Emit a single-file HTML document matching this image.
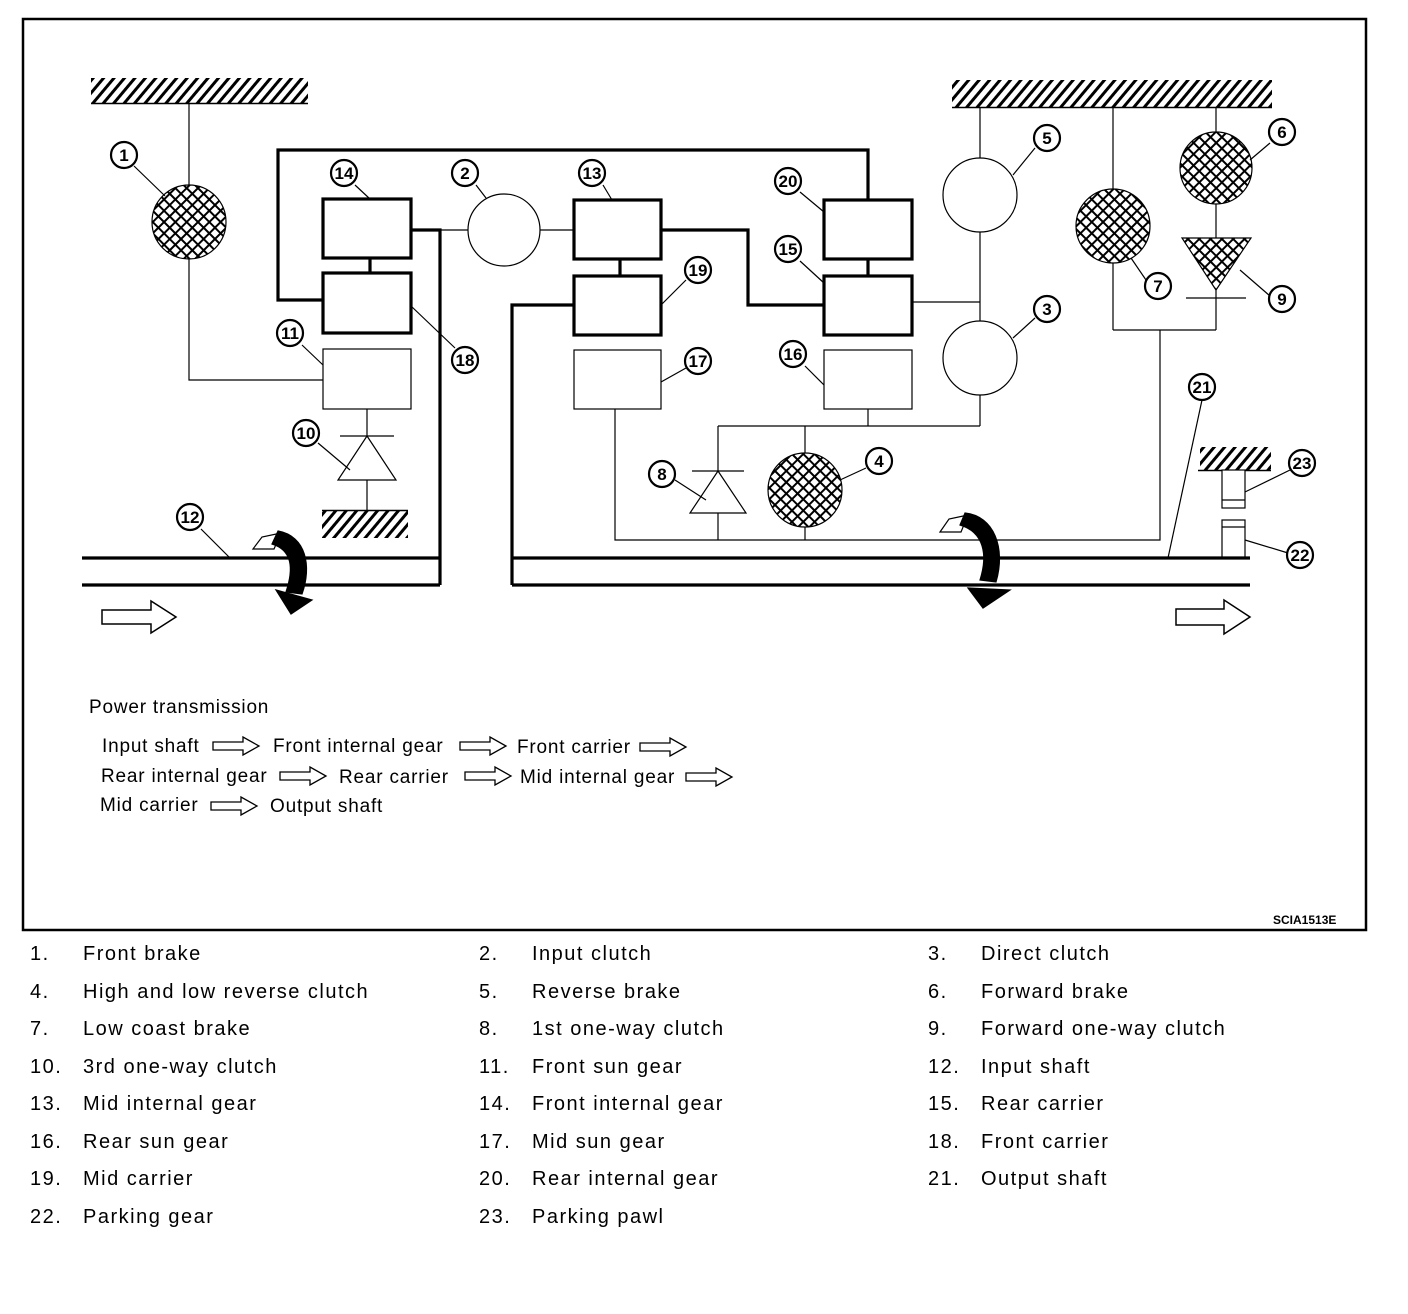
<!DOCTYPE html>
<html><head><meta charset="utf-8"><style>
html,body{margin:0;padding:0;background:#fff}
svg{display:block}
text{font-family:"Liberation Sans",Arial,sans-serif;fill:#000}
.n{font-weight:bold;font-size:17px;text-anchor:middle}
.pt{font-size:19px;letter-spacing:0.8px}
.lg{font-size:20px;letter-spacing:1.5px}
</style></head><body>
<svg width="1408" height="1314" viewBox="0 0 1408 1314" xmlns="http://www.w3.org/2000/svg">
<defs>
<pattern id="h" width="8" height="8" patternUnits="userSpaceOnUse" patternTransform="rotate(40)">
<rect width="8" height="8" fill="#fff"/><rect width="3" height="8" fill="#000"/></pattern>
<pattern id="x" width="8" height="8" patternUnits="userSpaceOnUse" patternTransform="rotate(45)">
<rect width="8" height="8" fill="#fff"/><rect width="2" height="8" fill="#000"/><rect width="8" height="2" fill="#000"/></pattern>
</defs>
<rect x="23" y="19" width="1343" height="911" fill="none" stroke="#000" stroke-width="2.5"/>

<rect x="91" y="78" width="217" height="25" fill="url(#h)"/><line x1="91" y1="103.5" x2="308" y2="103.5" stroke="#000" stroke-width="1.5"/>
<rect x="952" y="80" width="320" height="27" fill="url(#h)"/><line x1="952" y1="107.5" x2="1272" y2="107.5" stroke="#000" stroke-width="1.5"/>
<rect x="322" y="511" width="86" height="27" fill="url(#h)"/><line x1="322" y1="510.5" x2="408" y2="510.5" stroke="#000" stroke-width="1.5"/>
<rect x="1200" y="447" width="71" height="23" fill="url(#h)"/><line x1="1198" y1="470.5" x2="1271" y2="470.5" stroke="#000" stroke-width="1.5"/>

<g stroke="#000" fill="none" stroke-width="1.2">
<polyline points="189,103 189,380 323,380"/>
<line x1="440" y1="230" x2="468" y2="230"/><line x1="540" y1="230" x2="574" y2="230"/>
<polyline points="615,409 615,540 1160,540 1160,330"/>
<line x1="868" y1="409" x2="868" y2="426"/>
<line x1="718" y1="426" x2="980" y2="426"/>
<line x1="980" y1="107" x2="980" y2="426"/>
<line x1="912" y1="302" x2="980" y2="302"/>
<line x1="718" y1="426" x2="718" y2="540"/>
<line x1="805" y1="426" x2="805" y2="540"/>
<line x1="1113" y1="107" x2="1113" y2="330"/><line x1="1216" y1="107" x2="1216" y2="330"/>
<line x1="1113" y1="330" x2="1216" y2="330"/>
<line x1="367" y1="409" x2="367" y2="510"/>
<line x1="1202" y1="400" x2="1168" y2="558"/>
<rect x="323" y="349" width="88" height="60"/>
<rect x="574" y="350" width="87" height="59"/>
<rect x="824" y="350" width="88" height="59"/>
<rect x="1222" y="470" width="23" height="38" fill="#fff"/><line x1="1222" y1="500" x2="1245" y2="500"/>
<rect x="1222" y="520" width="23" height="38" fill="#fff"/><line x1="1222" y1="527" x2="1245" y2="527"/>
<polygon points="338,480 396,480 367,436" fill="#fff"/><line x1="340" y1="436" x2="394" y2="436"/>
<polygon points="690,513 746,513 718,471" fill="#fff"/><line x1="692" y1="471" x2="744" y2="471"/>
<polygon points="1182,238 1251,238 1216,290" fill="url(#x)"/><line x1="1186" y1="298" x2="1246" y2="298"/>
<circle cx="189" cy="222" r="37" fill="url(#x)"/>
<circle cx="504" cy="230" r="36" fill="#fff"/>
<circle cx="980" cy="195" r="37" fill="#fff"/>
<circle cx="980" cy="358" r="37" fill="#fff"/>
<circle cx="805" cy="490" r="37" fill="url(#x)"/>
<circle cx="1113" cy="226" r="37" fill="url(#x)"/>
<circle cx="1216" cy="168" r="36" fill="url(#x)"/>
</g>

<g stroke="#000" fill="none" stroke-width="3.2">
<polyline points="323,300 278,300 278,150 868,150 868,200"/>
<rect x="323" y="199" width="88" height="59"/>
<rect x="323" y="273" width="88" height="60"/>
<line x1="370" y1="258" x2="370" y2="273"/>
<polyline points="411,230 440,230 440,585"/>
<line x1="82" y1="558" x2="440" y2="558"/><line x1="82" y1="585" x2="440" y2="585"/>
<polyline points="574,305 512,305 512,585"/>
<line x1="512" y1="558" x2="1250" y2="558"/><line x1="512" y1="585" x2="1250" y2="585"/>
<rect x="574" y="200" width="87" height="59"/>
<rect x="574" y="276" width="87" height="59"/>
<line x1="620" y1="259" x2="620" y2="276"/>
<polyline points="661,230 748,230 748,305 824,305"/>
<rect x="824" y="200" width="88" height="59"/>
<rect x="824" y="276" width="88" height="59"/>
<line x1="868" y1="259" x2="868" y2="276"/>
</g>

<g stroke="#000" stroke-width="1.2">
<polygon points="253,549 262,537 281,533 274,549" fill="#fff"/>
<path d="M278,531 C306,536 312,566 302,594 L286,592 C294,568 292,550 272,544 Z" fill="#000"/>
<polygon points="276,590 312,600 291,614" fill="#000"/>
<polygon points="940,532 949,519 968,515 961,532" fill="#fff"/>
<path d="M965,513 C994,516 1006,548 996,582 L980,580 C988,555 984,532 960,525 Z" fill="#000"/>
<polygon points="968,588 1010,590 983,608" fill="#000"/>
</g>
<g stroke="#000" stroke-width="1.5" fill="#fff">
<polygon points="102,610 151,610 151,601 176,617 151,633 151,624 102,624"/>
<polygon points="1176,609 1224,609 1224,600 1250,617 1224,634 1224,625 1176,625"/>
</g>

<g stroke="#000" stroke-width="1.2">
<line x1="134" y1="166" x2="165" y2="196"/><line x1="355" y1="185" x2="370" y2="199"/>
<line x1="476" y1="185" x2="486" y2="198"/><line x1="603" y1="185" x2="612" y2="200"/>
<line x1="800" y1="192" x2="824" y2="212"/><line x1="800" y1="261" x2="824" y2="283"/>
<line x1="686" y1="280" x2="661" y2="305"/><line x1="455" y1="348" x2="411" y2="306"/>
<line x1="302" y1="345" x2="323" y2="365"/><line x1="686" y1="368" x2="661" y2="382"/>
<line x1="805" y1="366" x2="824" y2="385"/><line x1="318" y1="443" x2="350" y2="470"/>
<line x1="201" y1="529" x2="230" y2="558"/><line x1="675" y1="480" x2="706" y2="500"/>
<line x1="866" y1="468" x2="840" y2="480"/><line x1="1035" y1="148" x2="1013" y2="175"/>
<line x1="1035" y1="318" x2="1013" y2="338"/><line x1="1270" y1="143" x2="1250" y2="160"/>
<line x1="1146" y1="280" x2="1131" y2="258"/><line x1="1270" y1="296" x2="1240" y2="270"/>
<line x1="1290" y1="470" x2="1245" y2="492"/><line x1="1288" y1="553" x2="1245" y2="540"/>
</g>
<g stroke="#000" stroke-width="2.2" fill="#fff">
<circle cx="124" cy="155" r="13"/><circle cx="344" cy="173" r="13"/><circle cx="465" cy="173" r="13"/>
<circle cx="592" cy="173" r="13"/><circle cx="788" cy="181" r="13"/><circle cx="788" cy="249" r="13"/>
<circle cx="698" cy="270" r="13"/><circle cx="465" cy="360" r="13"/><circle cx="290" cy="333" r="13"/>
<circle cx="698" cy="361" r="13"/><circle cx="793" cy="354" r="13"/><circle cx="306" cy="433" r="13"/>
<circle cx="190" cy="517" r="13"/><circle cx="662" cy="474" r="13"/><circle cx="879" cy="461" r="13"/>
<circle cx="1047" cy="138" r="13"/><circle cx="1047" cy="309" r="13"/><circle cx="1282" cy="132" r="13"/>
<circle cx="1158" cy="286" r="13"/><circle cx="1282" cy="299" r="13"/><circle cx="1202" cy="387" r="13"/>
<circle cx="1302" cy="463" r="13"/><circle cx="1300" cy="555" r="13"/>
</g>
<g class="n">
<text x="124" y="161" class="n">1</text><text x="344" y="179" class="n">14</text><text x="465" y="179" class="n">2</text>
<text x="592" y="179" class="n">13</text><text x="788" y="187" class="n">20</text><text x="788" y="255" class="n">15</text>
<text x="698" y="276" class="n">19</text><text x="465" y="366" class="n">18</text><text x="290" y="339" class="n">11</text>
<text x="698" y="367" class="n">17</text><text x="793" y="360" class="n">16</text><text x="306" y="439" class="n">10</text>
<text x="190" y="523" class="n">12</text><text x="662" y="480" class="n">8</text><text x="879" y="467" class="n">4</text>
<text x="1047" y="144" class="n">5</text><text x="1047" y="315" class="n">3</text><text x="1282" y="138" class="n">6</text>
<text x="1158" y="292" class="n">7</text><text x="1282" y="305" class="n">9</text><text x="1202" y="393" class="n">21</text>
<text x="1302" y="469" class="n">23</text><text x="1300" y="561" class="n">22</text>
</g>

<text x="89" y="713" class="pt">Power transmission</text>
<text x="102" y="752" class="pt">Input shaft</text><text x="273" y="752" class="pt">Front internal gear</text><text x="517" y="753" class="pt">Front carrier</text>
<text x="101" y="782" class="pt">Rear internal gear</text><text x="339" y="783" class="pt">Rear carrier</text><text x="520" y="783" class="pt">Mid internal gear</text>
<text x="100" y="811" class="pt">Mid carrier</text><text x="270" y="812" class="pt">Output shaft</text>
<g stroke="#000" stroke-width="1.3" fill="#fff">
<polygon points="213,742 243,742 243,737 259,746 243,755 243,750 213,750"/>
<polygon points="460,742 490,742 490,737 506,746 490,755 490,750 460,750"/>
<polygon points="640,743 670,743 670,738 686,747 670,756 670,751 640,751"/>
<polygon points="280,772 310,772 310,767 326,776 310,785 310,780 280,780"/>
<polygon points="465,772 495,772 495,767 511,776 495,785 495,780 465,780"/>
<polygon points="686,773 716,773 716,768 732,777 716,786 716,781 686,781"/>
<polygon points="211,802 241,802 241,797 257,806 241,815 241,810 211,810"/>
</g>
<text x="1273" y="924" style="font-size:12px;font-weight:bold">SCIA1513E</text>

<g>
<text x="30" y="960" class="lg">1.</text><text x="83" y="960" class="lg">Front brake</text>
<text x="479" y="960" class="lg">2.</text><text x="532" y="960" class="lg">Input clutch</text>
<text x="928" y="960" class="lg">3.</text><text x="981" y="960" class="lg">Direct clutch</text>
<text x="30" y="998" class="lg">4.</text><text x="83" y="998" class="lg">High and low reverse clutch</text>
<text x="479" y="998" class="lg">5.</text><text x="532" y="998" class="lg">Reverse brake</text>
<text x="928" y="998" class="lg">6.</text><text x="981" y="998" class="lg">Forward brake</text>
<text x="30" y="1035" class="lg">7.</text><text x="83" y="1035" class="lg">Low coast brake</text>
<text x="479" y="1035" class="lg">8.</text><text x="532" y="1035" class="lg">1st one-way clutch</text>
<text x="928" y="1035" class="lg">9.</text><text x="981" y="1035" class="lg">Forward one-way clutch</text>
<text x="30" y="1073" class="lg">10.</text><text x="83" y="1073" class="lg">3rd one-way clutch</text>
<text x="479" y="1073" class="lg">11.</text><text x="532" y="1073" class="lg">Front sun gear</text>
<text x="928" y="1073" class="lg">12.</text><text x="981" y="1073" class="lg">Input shaft</text>
<text x="30" y="1110" class="lg">13.</text><text x="83" y="1110" class="lg">Mid internal gear</text>
<text x="479" y="1110" class="lg">14.</text><text x="532" y="1110" class="lg">Front internal gear</text>
<text x="928" y="1110" class="lg">15.</text><text x="981" y="1110" class="lg">Rear carrier</text>
<text x="30" y="1148" class="lg">16.</text><text x="83" y="1148" class="lg">Rear sun gear</text>
<text x="479" y="1148" class="lg">17.</text><text x="532" y="1148" class="lg">Mid sun gear</text>
<text x="928" y="1148" class="lg">18.</text><text x="981" y="1148" class="lg">Front carrier</text>
<text x="30" y="1185" class="lg">19.</text><text x="83" y="1185" class="lg">Mid carrier</text>
<text x="479" y="1185" class="lg">20.</text><text x="532" y="1185" class="lg">Rear internal gear</text>
<text x="928" y="1185" class="lg">21.</text><text x="981" y="1185" class="lg">Output shaft</text>
<text x="30" y="1223" class="lg">22.</text><text x="83" y="1223" class="lg">Parking gear</text>
<text x="479" y="1223" class="lg">23.</text><text x="532" y="1223" class="lg">Parking pawl</text>
</g>
</svg>
</body></html>
